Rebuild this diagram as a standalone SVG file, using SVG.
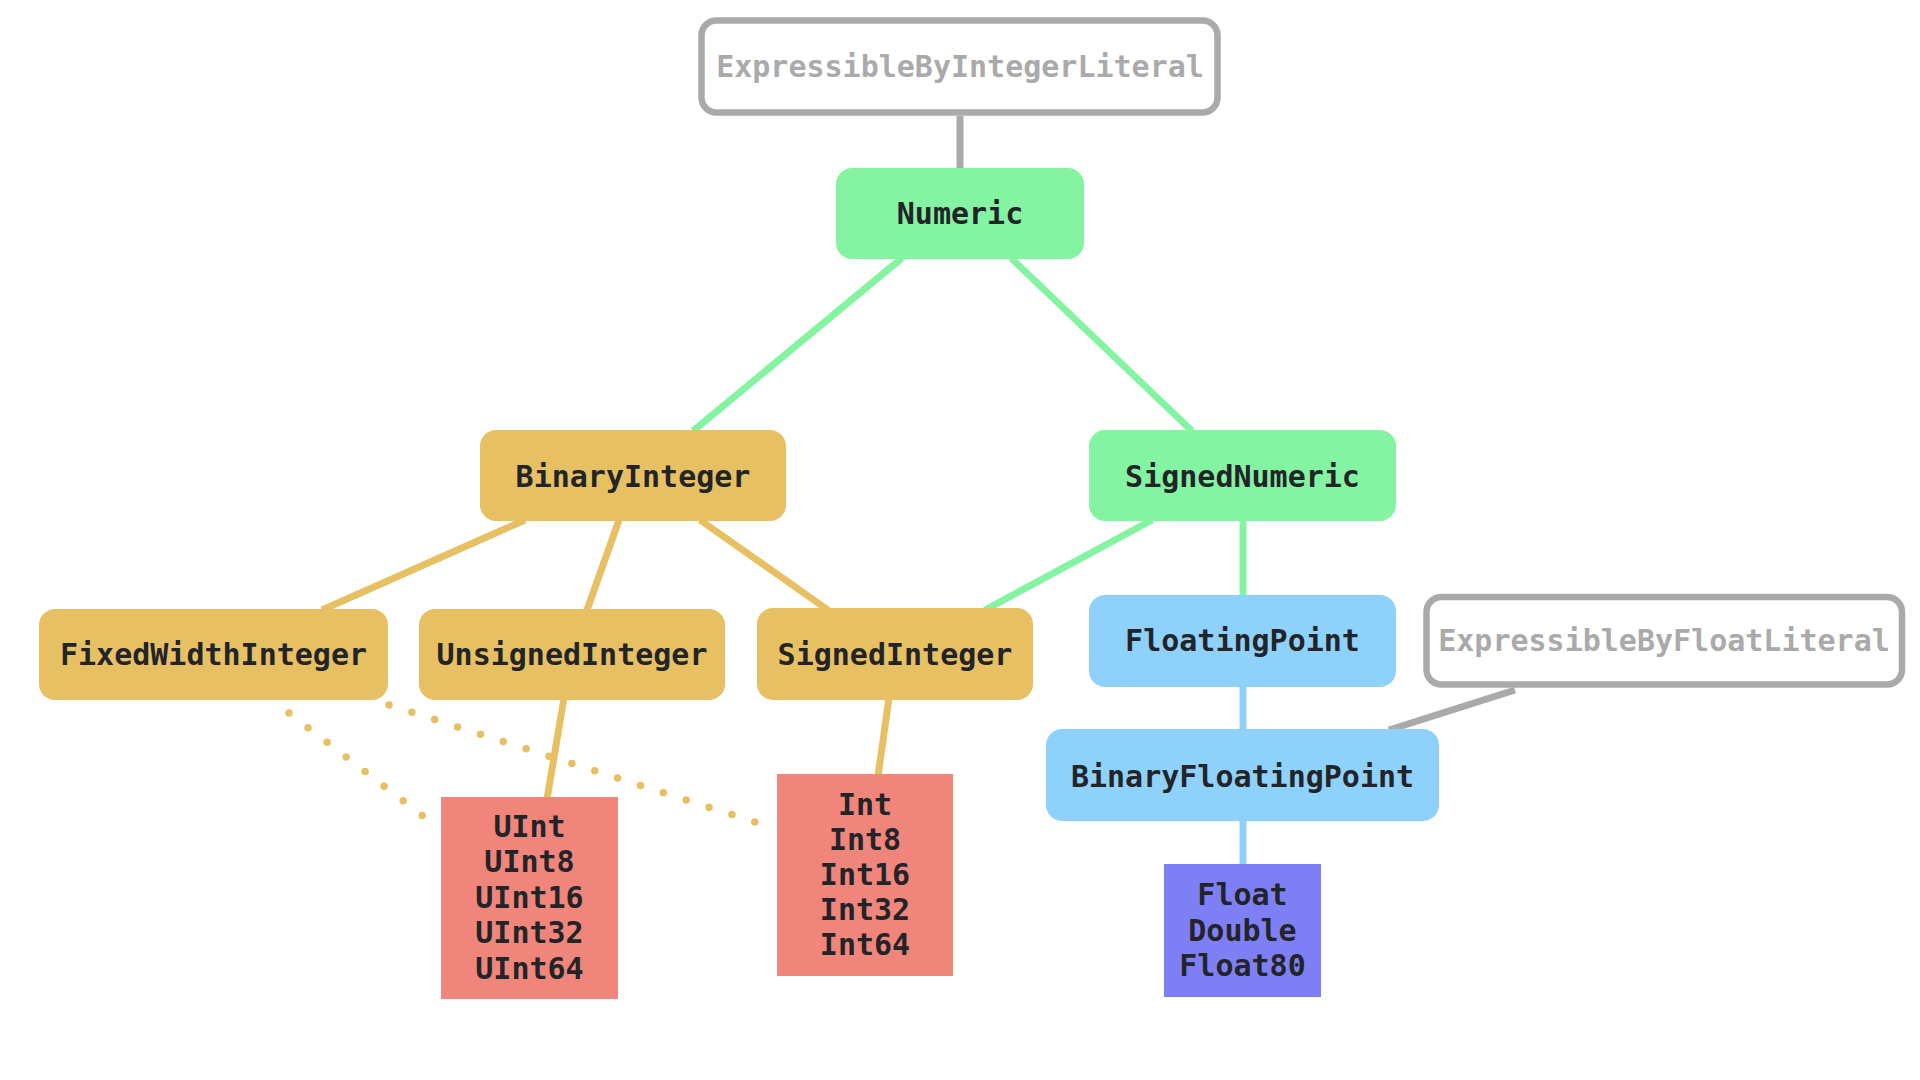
<svg xmlns="http://www.w3.org/2000/svg" width="1920" height="1080" viewBox="0 0 1920 1080">
<style>
  text { font-family: "DejaVu Sans Mono", "Liberation Mono", monospace; font-weight: bold; font-size: 30px; text-anchor: middle; fill: #222428; }
  .lit text { fill: #aaaaaa; }
  .lit rect { fill: #ffffff; stroke: #aaaaaa; stroke-width: 6.5; }
  .green rect { fill: #84f4a2; }
  .gold rect { fill: #e8c064; }
  .blue rect { fill: #8ed2fb; }
  .salmon rect { fill: #f0857c; }
  .purple rect { fill: #7f7ff5; }
  .c { stroke-width: 7; fill: none; stroke-linecap: butt; }
  .cg { stroke: #84f4a2; }
  .cy { stroke: #e8c064; }
  .cb { stroke: #8ed2fb; }
  .ca { stroke: #aaaaaa; }
  .dot { stroke: #e8c064; stroke-width: 7.5; stroke-dasharray: 0 24; stroke-linecap: round; fill: none; }
</style>
<g id="connectors">
  <line class="c ca" x1="960" y1="116" x2="960" y2="170"/>
  <line class="c ca" x1="1515" y1="690" x2="1389" y2="730"/>
  <line class="c cg" x1="902" y1="258" x2="693" y2="431"/>
  <line class="c cg" x1="1011" y1="258" x2="1192" y2="431"/>
  <line class="c cg" x1="1152" y1="520" x2="985" y2="610"/>
  <line class="c cg" x1="1243" y1="520" x2="1243" y2="597"/>
  <line class="c cy" x1="525" y1="520" x2="322" y2="610"/>
  <line class="c cy" x1="619" y1="520" x2="587" y2="610"/>
  <line class="c cy" x1="700" y1="520" x2="828" y2="610"/>
  <line class="c cy" x1="564" y1="698" x2="547" y2="799"/>
  <line class="c cy" x1="889" y1="698" x2="878" y2="776"/>
  <line class="dot" x1="289" y1="713" x2="422.2" y2="815.4"/>
  <line class="dot" x1="389" y1="705" x2="755" y2="822"/>
  <line class="c cb" x1="1243" y1="685" x2="1243" y2="731"/>
  <line class="c cb" x1="1243" y1="819" x2="1243" y2="866"/>
</g>
<g id="ExpressibleByIntegerLiteral" class="lit">
  <rect x="701.5" y="20.5" width="516" height="92" rx="15"/>
  <text x="960" y="77">ExpressibleByIntegerLiteral</text>
</g>
<g id="Numeric" class="green">
  <rect x="836" y="168" width="248" height="91" rx="16"/>
  <text x="960" y="224">Numeric</text>
</g>
<g id="BinaryInteger" class="gold">
  <rect x="480" y="430" width="306" height="91" rx="16"/>
  <text x="633" y="487">BinaryInteger</text>
</g>
<g id="SignedNumeric" class="green">
  <rect x="1089" y="430" width="307" height="91" rx="16"/>
  <text x="1242.5" y="487">SignedNumeric</text>
</g>
<g id="FixedWidthInteger" class="gold">
  <rect x="39" y="609" width="349" height="91" rx="16"/>
  <text x="213.5" y="665">FixedWidthInteger</text>
</g>
<g id="UnsignedInteger" class="gold">
  <rect x="419" y="609" width="306" height="91" rx="16"/>
  <text x="572" y="665">UnsignedInteger</text>
</g>
<g id="SignedInteger" class="gold">
  <rect x="757" y="608" width="276" height="92" rx="16"/>
  <text x="895" y="665">SignedInteger</text>
</g>
<g id="FloatingPoint" class="blue">
  <rect x="1089" y="595" width="307" height="92" rx="16"/>
  <text x="1242.5" y="651">FloatingPoint</text>
</g>
<g id="ExpressibleByFloatLiteral" class="lit">
  <rect x="1426.5" y="597" width="475.5" height="87.5" rx="15"/>
  <text x="1664" y="651">ExpressibleByFloatLiteral</text>
</g>
<g id="BinaryFloatingPoint" class="blue">
  <rect x="1046" y="729" width="393" height="92" rx="16"/>
  <text x="1242.5" y="786.5">BinaryFloatingPoint</text>
</g>
<g id="UIntTypes" class="salmon">
  <rect x="441" y="797" width="177" height="202"/>
  <text x="529.5" y="836.5">UInt</text>
  <text x="529.5" y="872">UInt8</text>
  <text x="529.5" y="907.5">UInt16</text>
  <text x="529.5" y="943">UInt32</text>
  <text x="529.5" y="978.5">UInt64</text>
</g>
<g id="IntTypes" class="salmon">
  <rect x="777" y="774" width="176" height="202"/>
  <text x="865" y="815">Int</text>
  <text x="865" y="850">Int8</text>
  <text x="865" y="885">Int16</text>
  <text x="865" y="920">Int32</text>
  <text x="865" y="955">Int64</text>
</g>
<g id="FloatTypes" class="purple">
  <rect x="1164" y="864" width="157" height="133"/>
  <text x="1242.5" y="905">Float</text>
  <text x="1242.5" y="940.5">Double</text>
  <text x="1242.5" y="976">Float80</text>
</g>
</svg>
